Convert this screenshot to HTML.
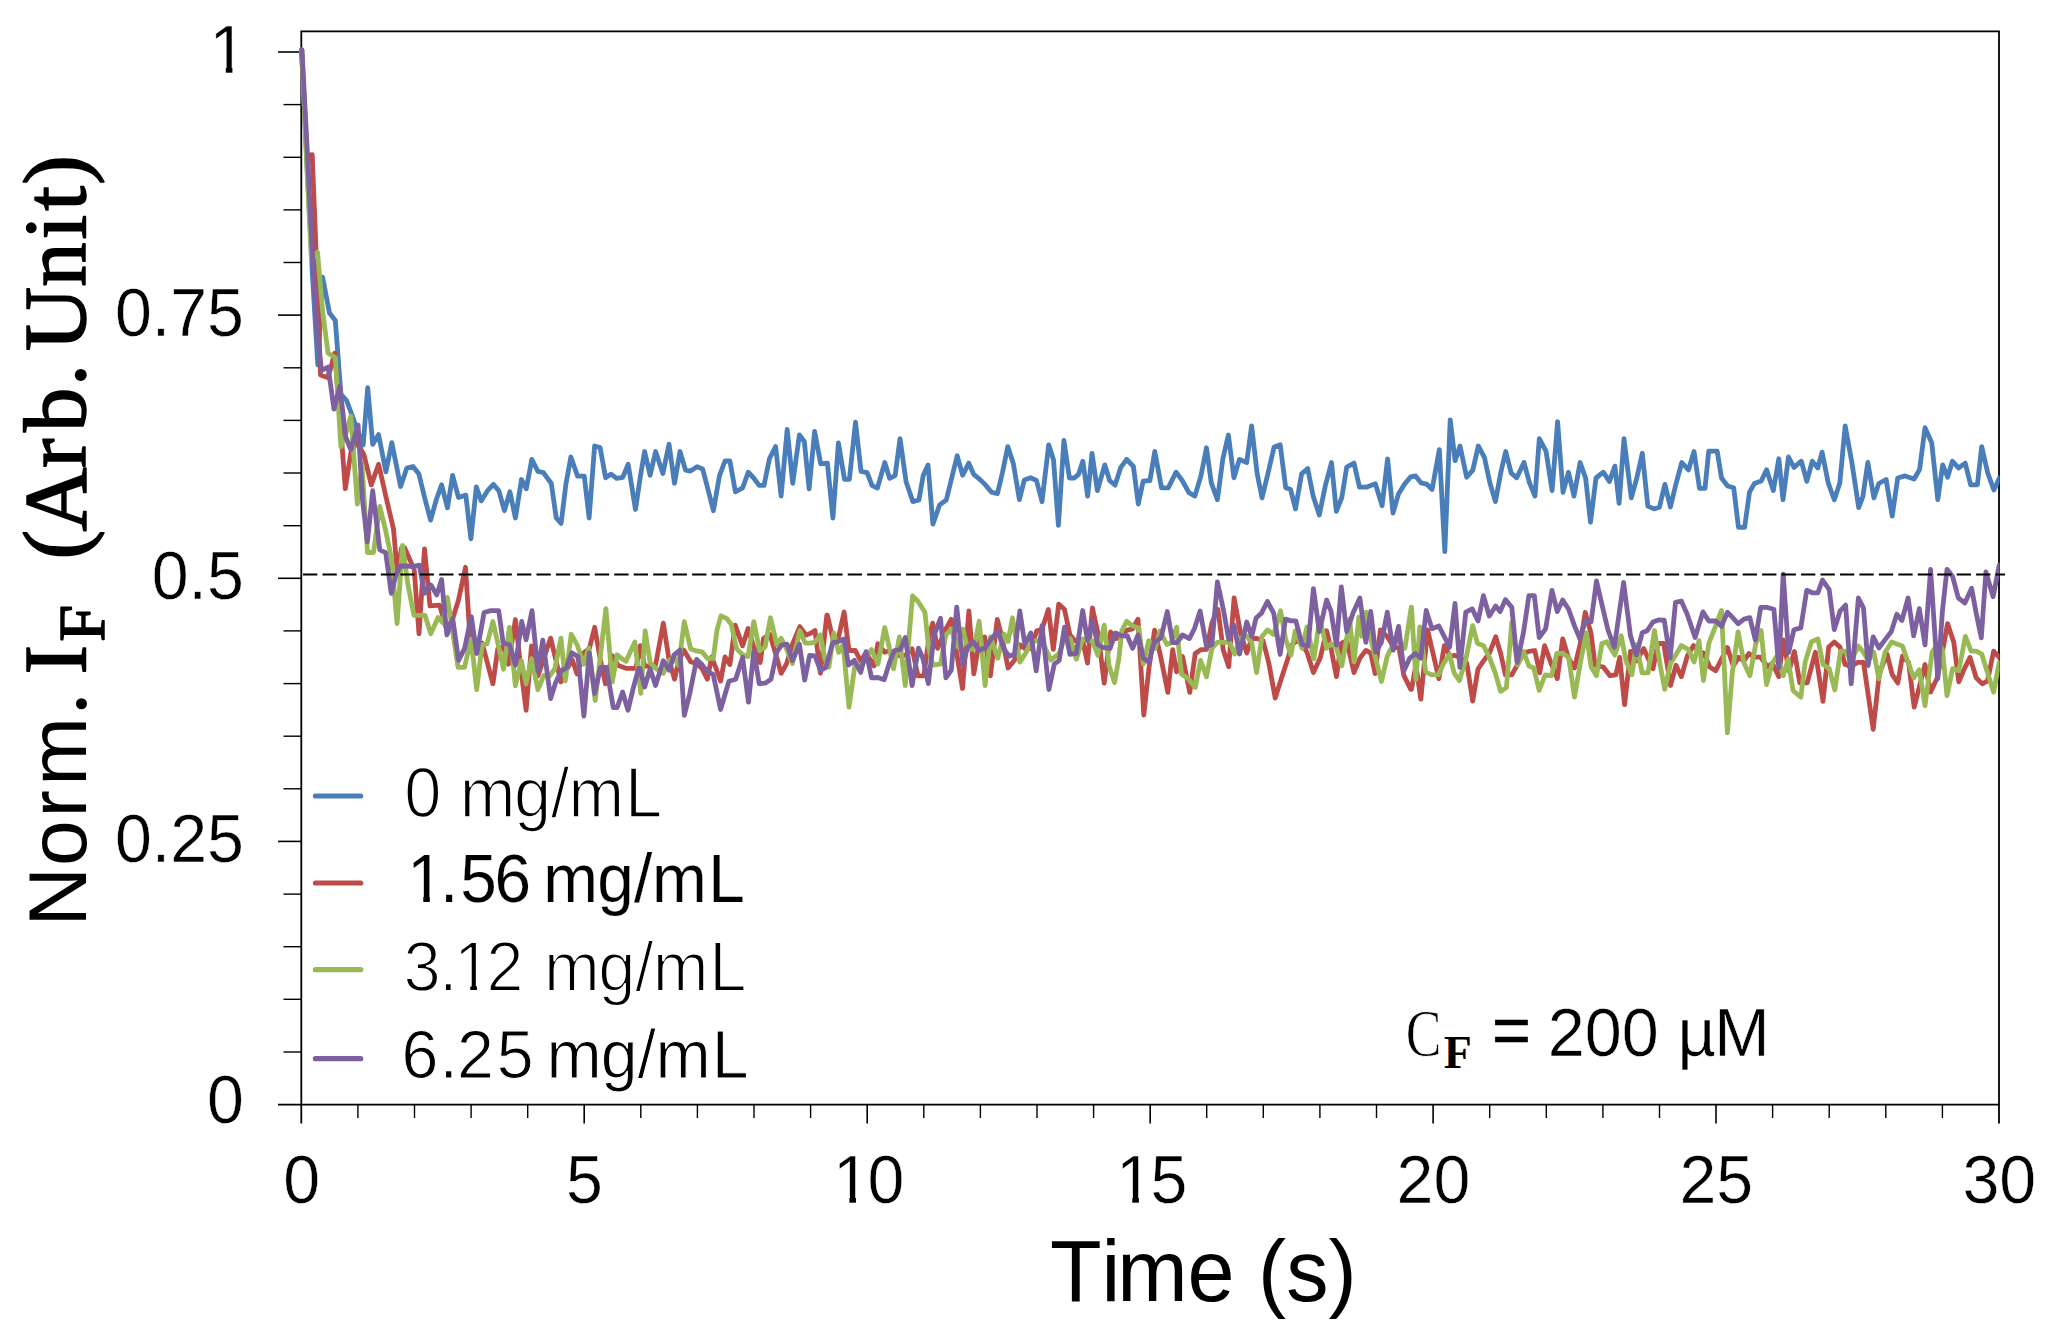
<!DOCTYPE html>
<html lang="en"><head><meta charset="utf-8"><title>Norm. IF vs Time</title>
<style>html,body{margin:0;padding:0;background:#fff}body{width:2050px;height:1338px;overflow:hidden}svg{display:block}text{fill:#000;white-space:pre}.s{font-family:"Liberation Sans", Arial, sans-serif}.r{font-family:"Liberation Serif", "Times New Roman", serif}</style></head><body>
<svg width="2050" height="1338" viewBox="0 0 2050 1338">
<rect width="2050" height="1338" fill="#fff"/>
<g stroke="#000" stroke-width="1.8" fill="none">
<path d="M301.3,1123.5 V31.3 H1999 V1123.5"/>
<path d="M278,1104.6 H1999"/>
</g>
<g stroke="#000" stroke-width="1.6">
<line x1="283.5" y1="1052.0" x2="301.3" y2="1052.0" stroke-width="1.4"/>
<line x1="283.5" y1="999.3" x2="301.3" y2="999.3" stroke-width="1.4"/>
<line x1="283.5" y1="946.7" x2="301.3" y2="946.7" stroke-width="1.4"/>
<line x1="283.5" y1="894.1" x2="301.3" y2="894.1" stroke-width="1.4"/>
<line x1="278" y1="841.4" x2="301.3" y2="841.4"/>
<line x1="283.5" y1="788.8" x2="301.3" y2="788.8" stroke-width="1.4"/>
<line x1="283.5" y1="736.2" x2="301.3" y2="736.2" stroke-width="1.4"/>
<line x1="283.5" y1="683.6" x2="301.3" y2="683.6" stroke-width="1.4"/>
<line x1="283.5" y1="630.9" x2="301.3" y2="630.9" stroke-width="1.4"/>
<line x1="278" y1="578.3" x2="301.3" y2="578.3"/>
<line x1="283.5" y1="525.7" x2="301.3" y2="525.7" stroke-width="1.4"/>
<line x1="283.5" y1="473.0" x2="301.3" y2="473.0" stroke-width="1.4"/>
<line x1="283.5" y1="420.4" x2="301.3" y2="420.4" stroke-width="1.4"/>
<line x1="283.5" y1="367.8" x2="301.3" y2="367.8" stroke-width="1.4"/>
<line x1="278" y1="315.1" x2="301.3" y2="315.1"/>
<line x1="283.5" y1="262.5" x2="301.3" y2="262.5" stroke-width="1.4"/>
<line x1="283.5" y1="209.9" x2="301.3" y2="209.9" stroke-width="1.4"/>
<line x1="283.5" y1="157.3" x2="301.3" y2="157.3" stroke-width="1.4"/>
<line x1="283.5" y1="104.6" x2="301.3" y2="104.6" stroke-width="1.4"/>
<line x1="278" y1="52.0" x2="301.3" y2="52.0"/>
<line x1="357.9" y1="1104.6" x2="357.9" y2="1118" stroke-width="1.4"/>
<line x1="414.5" y1="1104.6" x2="414.5" y2="1118" stroke-width="1.4"/>
<line x1="471.1" y1="1104.6" x2="471.1" y2="1118" stroke-width="1.4"/>
<line x1="527.7" y1="1104.6" x2="527.7" y2="1118" stroke-width="1.4"/>
<line x1="584.2" y1="1104.6" x2="584.2" y2="1123.5"/>
<line x1="640.8" y1="1104.6" x2="640.8" y2="1118" stroke-width="1.4"/>
<line x1="697.4" y1="1104.6" x2="697.4" y2="1118" stroke-width="1.4"/>
<line x1="754.0" y1="1104.6" x2="754.0" y2="1118" stroke-width="1.4"/>
<line x1="810.6" y1="1104.6" x2="810.6" y2="1118" stroke-width="1.4"/>
<line x1="867.2" y1="1104.6" x2="867.2" y2="1123.5"/>
<line x1="923.8" y1="1104.6" x2="923.8" y2="1118" stroke-width="1.4"/>
<line x1="980.4" y1="1104.6" x2="980.4" y2="1118" stroke-width="1.4"/>
<line x1="1037.0" y1="1104.6" x2="1037.0" y2="1118" stroke-width="1.4"/>
<line x1="1093.6" y1="1104.6" x2="1093.6" y2="1118" stroke-width="1.4"/>
<line x1="1150.2" y1="1104.6" x2="1150.2" y2="1123.5"/>
<line x1="1206.7" y1="1104.6" x2="1206.7" y2="1118" stroke-width="1.4"/>
<line x1="1263.3" y1="1104.6" x2="1263.3" y2="1118" stroke-width="1.4"/>
<line x1="1319.9" y1="1104.6" x2="1319.9" y2="1118" stroke-width="1.4"/>
<line x1="1376.5" y1="1104.6" x2="1376.5" y2="1118" stroke-width="1.4"/>
<line x1="1433.1" y1="1104.6" x2="1433.1" y2="1123.5"/>
<line x1="1489.7" y1="1104.6" x2="1489.7" y2="1118" stroke-width="1.4"/>
<line x1="1546.3" y1="1104.6" x2="1546.3" y2="1118" stroke-width="1.4"/>
<line x1="1602.9" y1="1104.6" x2="1602.9" y2="1118" stroke-width="1.4"/>
<line x1="1659.5" y1="1104.6" x2="1659.5" y2="1118" stroke-width="1.4"/>
<line x1="1716.0" y1="1104.6" x2="1716.0" y2="1123.5"/>
<line x1="1772.6" y1="1104.6" x2="1772.6" y2="1118" stroke-width="1.4"/>
<line x1="1829.2" y1="1104.6" x2="1829.2" y2="1118" stroke-width="1.4"/>
<line x1="1885.8" y1="1104.6" x2="1885.8" y2="1118" stroke-width="1.4"/>
<line x1="1942.4" y1="1104.6" x2="1942.4" y2="1118" stroke-width="1.4"/>
</g>
<clipPath id="pc"><rect x="290" y="20" width="1709.6" height="1100"/></clipPath>
<g fill="none" stroke-width="4.8" stroke-linejoin="round" stroke-linecap="round" clip-path="url(#pc)">
<polyline points="301.5,50.0 307.0,165.0 312.6,278.0 317.8,364.9 322.6,277.1 329.5,313.0 335.3,320.5 340.9,394.0 346.6,400.5 352.0,415.0 357.7,431.0 363.2,444.9 367.7,387.7 372.7,444.4 378.6,434.6 385.9,471.9 391.8,442.6 400.6,486.5 406.8,468.0 413.0,466.5 418.9,474.0 424.7,498.0 430.6,520.2 436.2,500.0 441.6,484.8 447.5,507.8 452.6,475.3 458.5,497.5 465.8,495.1 470.9,538.8 476.3,486.9 481.2,500.9 487.3,490.9 493.4,484.4 498.9,490.9 504.4,510.7 509.9,491.7 515.4,518.0 521.5,479.5 526.3,488.8 531.8,459.4 537.9,471.3 543.4,472.6 551.3,483.5 556.2,517.7 561.1,523.5 566.0,483.5 570.9,457.0 577.6,476.2 584.3,476.2 589.1,518.0 594.6,446.0 600.1,447.6 605.6,477.8 611.1,474.1 616.6,478.4 622.7,477.4 628.2,464.3 635.5,509.5 640.4,476.2 644.6,451.5 650.1,475.3 655.6,451.5 662.9,473.5 669.0,444.2 674.5,483.3 680.0,451.5 685.5,470.1 690.4,471.1 697.1,466.7 702.6,468.9 707.9,489.0 713.4,510.7 719.5,475.6 725.0,461.0 729.9,461.0 735.4,491.8 742.7,487.8 748.2,472.2 753.7,478.0 759.1,485.4 764.0,485.4 769.5,458.5 775.6,446.6 781.1,496.1 787.2,429.5 792.7,483.3 799.4,435.0 804.3,441.5 809.1,488.8 814.6,431.4 820.7,463.8 827.4,463.1 832.9,518.0 838.4,443.0 844.5,479.3 849.4,479.3 855.5,422.2 861.0,471.3 867.1,472.6 872.0,485.4 877.4,488.1 884.8,462.5 889.6,478.4 895.1,475.6 900.0,438.7 906.1,481.7 912.8,501.6 918.9,500.0 923.2,475.6 928.0,464.9 932.9,524.1 939.6,504.9 946.3,500.0 951.7,478.0 957.2,455.8 962.7,475.3 968.8,463.1 973.7,474.4 980.4,479.9 985.9,485.4 991.3,492.1 997.4,493.6 1002.3,473.2 1007.8,446.6 1013.3,463.4 1019.4,499.7 1024.3,479.9 1030.4,477.7 1036.5,480.5 1042.0,501.6 1048.7,444.8 1053.5,459.8 1058.4,525.3 1063.9,440.5 1069.4,478.0 1074.3,478.0 1078.5,474.4 1082.8,461.2 1087.7,496.1 1092.0,453.3 1097.4,490.6 1104.8,464.9 1109.6,480.5 1115.1,485.1 1120.6,467.7 1126.7,459.4 1133.4,466.5 1138.3,504.0 1143.2,481.1 1149.9,480.5 1154.8,451.5 1161.5,487.8 1168.2,487.8 1176.1,472.2 1182.2,480.5 1188.9,492.7 1194.9,496.1 1201.0,475.6 1206.5,447.8 1211.3,482.9 1217.4,499.7 1222.9,458.5 1228.4,435.0 1233.9,477.8 1239.4,459.4 1246.7,462.5 1251.6,425.9 1257.1,473.2 1262.0,497.9 1268.0,473.2 1274.1,447.0 1280.2,444.8 1285.7,487.8 1290.6,489.6 1295.5,508.9 1301.6,473.8 1307.7,468.6 1313.2,496.3 1319.3,515.0 1325.4,485.4 1331.5,462.5 1336.3,511.3 1341.8,497.6 1346.7,467.1 1354.0,463.1 1359.5,487.2 1366.2,487.2 1375.4,483.8 1382.1,505.8 1387.6,458.8 1393.0,513.1 1398.5,493.9 1404.6,484.1 1410.7,476.8 1415.6,475.9 1421.1,482.9 1426.6,484.1 1432.1,489.4 1439.3,449.7 1444.8,551.6 1450.2,419.8 1455.1,460.7 1460.0,446.0 1466.7,477.2 1472.8,470.1 1478.3,446.0 1484.4,457.3 1489.9,482.9 1495.4,501.6 1500.9,472.0 1505.7,451.5 1511.2,473.2 1516.7,477.8 1524.0,462.5 1529.5,482.9 1535.0,496.1 1539.3,438.7 1546.0,451.2 1552.1,490.6 1557.6,421.6 1563.0,492.4 1568.5,472.2 1574.0,496.1 1580.1,462.5 1585.6,478.0 1590.5,522.3 1596.0,478.0 1603.3,472.2 1609.4,481.4 1614.9,466.1 1619.1,503.4 1624.0,438.7 1631.3,497.9 1636.8,478.0 1642.3,453.3 1647.8,506.1 1653.9,508.9 1659.4,507.3 1664.9,484.4 1670.4,507.0 1675.9,484.1 1681.8,462.5 1688.5,469.9 1694.0,451.5 1699.5,488.4 1705.0,488.4 1708.7,451.2 1717.2,451.2 1721.5,478.0 1727.6,486.0 1733.7,487.8 1738.5,527.4 1744.6,527.4 1749.5,492.1 1754.4,483.5 1761.1,481.1 1766.6,469.8 1773.3,490.6 1778.8,458.8 1783.0,499.7 1788.5,457.0 1794.0,467.4 1801.3,461.2 1806.8,481.4 1812.3,461.2 1817.8,468.0 1822.1,452.1 1828.2,482.9 1834.3,499.7 1839.8,482.9 1845.2,425.9 1852.0,463.4 1858.7,507.7 1862.9,496.3 1867.8,462.5 1873.9,497.9 1878.8,483.5 1886.1,479.5 1892.2,516.2 1897.7,478.0 1905.0,475.9 1914.1,479.0 1919.6,469.5 1925.0,427.7 1931.7,442.7 1937.8,499.7 1942.7,464.9 1947.6,477.2 1952.4,461.2 1958.5,468.0 1965.2,463.1 1970.7,484.8 1977.4,484.8 1981.7,446.6 1987.8,473.2 1993.9,490.0 1999.4,478.0" stroke="#4a7ebb"/>
<polyline points="301.5,50.0 307.0,155.9 312.2,154.6 316.5,262.0 320.5,375.0 328.1,377.7 334.7,353.1 340.5,425.0 345.3,488.7 351.0,452.0 357.0,442.1 364.0,455.0 371.3,484.9 378.6,464.3 386.0,497.0 393.5,529.0 397.5,573.9 401.5,548.0 404.7,548.0 414.2,569.6 419.0,633.9 424.5,549.0 430.0,605.9 439.6,605.1 446.5,628.9 452.6,619.0 458.5,600.0 465.5,567.3 470.4,645.0 471.3,646.6 476.7,644.8 482.1,643.0 487.5,663.4 492.9,683.8 497.8,648.7 503.6,646.9 508.5,664.3 515.4,619.5 520.8,668.3 526.1,710.3 531.5,645.9 537.9,676.0 543.8,658.5 550.6,638.1 555.5,658.5 560.9,681.9 566.3,670.3 572.2,659.6 577.1,674.0 583.9,652.7 589.3,648.7 594.7,627.3 600.1,658.5 605.4,683.8 612.3,655.7 618.2,665.4 626.0,668.3 635.8,668.3 635.9,668.3 640.3,645.7 644.7,666.4 650.1,665.7 655.5,665.4 663.3,623.1 669.2,660.7 674.5,679.2 678.9,660.7 683.8,650.1 690.7,661.7 696.6,663.6 702.0,668.5 707.3,679.2 711.7,656.9 716.1,668.5 720.6,681.1 725.0,656.9 729.9,664.5 735.2,625.1 742.6,645.9 748.0,628.5 753.8,647.0 760.2,662.5 763.6,638.2 770.0,634.4 775.9,654.8 781.2,673.3 786.6,663.6 792.5,644.1 799.8,626.6 806.2,635.1 810.6,633.3 815.0,630.5 820.4,673.3 826.8,615.2 827.4,615.2 832.8,638.7 838.2,638.7 844.1,612.0 849.0,650.5 855.3,650.5 860.7,661.1 866.1,652.6 873.9,666.0 877.9,643.8 884.7,652.3 889.6,650.6 895.5,654.4 901.4,656.2 906.7,654.4 912.1,648.7 918.0,675.9 923.9,675.9 928.8,638.7 932.7,623.2 937.6,648.4 945.9,628.9 951.3,619.3 956.7,653.4 962.5,688.5 968.9,611.0 973.8,673.8 979.7,638.7 984.6,636.9 990.4,675.8 997.3,619.3 1002.2,638.7 1008.1,668.0 1014.4,660.3 1019.8,644.8 1024.9,648.5 1030.8,648.5 1036.6,630.9 1042.0,628.9 1048.4,609.5 1053.3,649.4 1058.7,604.1 1064.5,609.4 1069.9,634.8 1074.8,640.6 1082.7,640.8 1087.5,663.1 1092.4,608.0 1098.3,634.8 1104.2,683.1 1110.6,632.0 1116.4,638.6 1121.8,634.8 1127.2,630.1 1132.6,628.8 1138.0,619.3 1143.8,715.0 1149.2,666.1 1154.6,630.1 1161.0,658.3 1167.8,692.4 1172.7,649.6 1176.6,671.9 1182.5,656.5 1189.8,692.4 1195.2,653.4 1201.1,649.6 1206.5,649.4 1211.9,623.1 1217.3,609.4 1217.9,609.4 1223.3,650.3 1228.7,666.8 1234.1,598.0 1240.5,632.7 1246.8,653.1 1251.7,638.5 1257.1,638.5 1263.0,640.5 1268.8,663.0 1275.2,698.1 1281.6,677.7 1287.4,660.1 1292.3,644.4 1297.2,640.6 1302.1,644.4 1307.0,652.2 1313.4,672.6 1320.2,658.1 1326.6,630.8 1331.0,648.3 1336.4,676.6 1341.3,643.4 1346.7,640.6 1354.0,672.6 1359.9,658.1 1365.8,650.4 1370.7,653.2 1375.1,673.6 1380.4,629.9 1387.3,636.6 1393.2,646.4 1399.0,648.3 1403.9,675.7 1410.8,689.4 1411.5,689.4 1415.9,665.2 1420.8,699.2 1427.6,630.0 1433.0,653.3 1438.9,678.6 1444.3,645.6 1450.1,656.1 1455.0,655.4 1460.9,658.2 1466.8,663.1 1472.7,701.1 1478.0,669.0 1483.4,661.1 1489.3,653.3 1495.7,636.8 1500.6,653.3 1505.4,674.9 1511.8,674.9 1517.2,665.1 1523.6,653.3 1528.9,651.4 1534.8,650.5 1539.7,672.8 1544.6,645.6 1551.0,663.1 1557.3,678.6 1562.7,638.8 1568.6,658.2 1574.5,667.9 1580.3,643.5 1585.2,612.3 1591.1,633.7 1595.0,665.1 1603.3,667.0 1610.0,675.7 1615.8,674.9 1619.7,657.4 1624.6,704.7 1630.5,651.5 1636.3,661.0 1643.7,648.6 1648.1,658.2 1653.0,668.8 1657.9,643.5 1663.7,643.5 1670.6,685.5 1676.0,665.2 1681.4,676.7 1687.2,656.3 1693.6,645.6 1699.0,651.4 1703.9,653.3 1709.7,667.0 1715.6,670.8 1721.5,659.2 1727.4,647.6 1733.2,665.9 1738.6,657.4 1744.0,661.0 1748.9,653.5 1754.8,657.2 1760.7,657.2 1767.5,666.9 1772.4,663.2 1778.8,676.7 1783.2,639.8 1789.0,670.8 1794.4,651.5 1799.8,682.9 1807.2,682.9 1815.4,652.2 1823.0,701.3 1828.7,647.1 1834.3,642.0 1840.0,647.1 1845.1,664.5 1851.2,666.5 1857.4,662.4 1863.5,662.4 1873.2,729.3 1879.4,672.7 1887.1,654.3 1892.2,674.7 1897.8,682.9 1902.4,656.3 1908.6,662.4 1914.2,707.2 1925.0,664.5 1930.6,692.1 1937.3,677.8 1942.4,652.2 1947.5,623.6 1953.7,642.0 1958.8,681.9 1964.9,667.6 1970.0,657.4 1976.2,677.8 1982.3,683.9 1987.5,680.9 1993.6,651.2 1999.2,657.3" stroke="#be4b48"/>
<polyline points="302.0,50.0 306.5,160.0 311.5,259.9 317.5,252.1 322.5,310.0 328.0,353.0 335.4,357.7 340.9,446.9 346.4,432.0 350.8,416.1 357.4,504.1 362.0,464.1 367.5,552.5 373.5,552.5 379.8,506.5 385.5,530.0 391.4,558.0 397.1,623.6 402.5,545.3 408.0,585.0 414.0,615.4 419.0,615.4 425.0,615.3 430.8,633.9 438.0,617.5 443.0,622.9 447.4,597.4 458.1,667.3 464.5,667.3 471.1,639.1 476.7,689.7 482.1,644.8 487.0,643.8 492.9,621.5 498.2,644.8 503.6,669.2 509.5,627.3 515.4,685.8 521.3,660.6 526.1,683.8 531.5,658.7 537.9,689.7 543.8,675.3 549.6,676.0 555.0,668.3 560.9,638.1 565.3,680.9 571.2,634.2 577.1,644.8 583.9,664.3 588.8,647.9 595.2,700.5 600.5,654.6 605.9,608.7 612.3,681.9 617.2,654.8 621.6,658.5 626.0,661.3 634.8,641.9 634.9,641.9 640.8,693.3 645.2,631.0 650.1,662.7 655.9,668.5 663.3,673.3 669.2,660.7 674.1,656.9 678.5,665.4 684.3,621.7 690.7,648.9 696.6,650.9 702.0,651.9 707.8,658.7 713.2,658.7 717.1,629.4 721.0,615.8 726.9,618.6 731.3,624.5 736.7,648.9 742.6,654.8 748.0,656.6 753.8,621.7 759.7,650.8 765.1,647.0 770.5,617.8 776.8,644.9 781.2,638.3 786.6,648.9 792.5,663.5 799.8,630.5 805.2,643.1 810.1,643.1 815.0,642.1 820.4,634.9 824.8,658.7 828.9,667.0 833.8,633.0 838.7,652.3 843.1,644.8 849.0,707.1 854.9,665.3 860.7,666.0 866.1,658.3 871.5,649.6 877.9,664.0 884.7,627.6 889.1,646.6 893.5,668.9 899.4,636.9 905.3,685.6 909.2,634.8 912.6,595.8 918.0,601.5 924.9,612.3 928.8,648.5 932.7,665.0 940.5,664.2 945.9,634.8 951.3,629.1 956.7,646.4 963.0,629.1 967.4,648.5 973.8,649.4 979.2,621.3 985.1,685.6 990.4,636.9 997.8,658.2 1004.1,634.0 1008.1,641.5 1012.5,617.8 1019.8,662.1 1024.9,654.4 1030.8,643.6 1036.2,640.7 1042.0,640.7 1050.8,660.1 1059.2,653.4 1064.5,638.7 1070.4,638.7 1076.3,659.2 1082.7,638.9 1087.5,640.6 1092.4,640.8 1097.8,655.2 1104.2,625.2 1109.1,666.1 1114.5,682.6 1118.9,658.3 1121.8,630.9 1126.7,621.3 1132.6,626.0 1138.9,628.0 1143.3,664.0 1148.7,640.8 1155.1,648.4 1160.0,631.0 1166.8,644.5 1171.2,642.7 1176.6,627.1 1181.5,674.0 1188.4,678.9 1195.2,687.5 1200.6,660.4 1206.5,676.8 1211.9,648.5 1217.3,642.4 1219.9,642.4 1224.8,642.4 1229.7,642.6 1234.6,654.0 1240.5,638.5 1246.3,635.7 1251.7,642.4 1256.6,672.6 1262.0,636.6 1267.4,629.9 1273.7,634.5 1280.6,610.8 1285.5,638.5 1290.9,655.0 1295.3,630.8 1302.1,648.2 1307.0,626.9 1313.9,658.9 1319.7,618.1 1326.6,648.2 1331.0,643.6 1336.4,648.3 1341.8,665.8 1346.7,638.5 1349.6,619.1 1354.0,661.9 1358.9,617.1 1361.8,636.4 1366.2,612.2 1370.7,638.5 1375.5,658.1 1381.4,681.5 1387.3,656.1 1393.2,644.4 1399.0,640.6 1404.9,648.2 1411.3,607.2 1411.5,607.2 1415.9,679.6 1419.8,627.0 1425.7,671.9 1431.5,674.9 1438.4,674.9 1443.8,663.1 1449.6,654.4 1454.1,672.9 1459.4,680.6 1465.8,659.2 1472.7,625.6 1477.5,643.5 1483.4,645.5 1489.3,657.2 1495.2,672.9 1500.6,691.4 1506.4,687.6 1511.8,622.1 1517.5,664.9 1523.6,651.5 1528.9,666.0 1533.8,668.0 1539.2,690.4 1545.1,675.0 1551.5,675.7 1556.8,653.3 1562.7,653.3 1568.6,657.2 1574.5,697.2 1580.3,663.1 1586.2,632.9 1591.1,667.0 1596.5,675.7 1601.9,643.5 1606.8,641.7 1614.8,655.1 1621.2,635.8 1626.0,661.1 1631.9,674.7 1636.3,644.6 1642.2,672.9 1648.1,672.9 1654.4,630.5 1659.8,663.1 1664.7,689.4 1670.6,663.1 1675.5,655.3 1681.4,645.6 1688.2,649.4 1694.1,662.0 1699.0,640.7 1703.4,680.6 1708.8,643.5 1715.6,625.9 1721.5,610.4 1727.4,732.8 1732.3,672.9 1738.1,631.9 1744.0,663.1 1749.9,675.7 1755.8,643.5 1761.1,630.5 1766.5,684.5 1772.4,663.1 1777.3,655.4 1783.2,675.7 1788.1,659.3 1793.0,690.5 1800.8,697.2 1805.1,662.4 1811.3,642.0 1817.9,638.9 1823.0,664.5 1829.2,668.6 1834.8,690.0 1840.5,651.2 1845.1,651.2 1851.2,660.3 1858.4,646.1 1863.5,652.2 1868.1,660.3 1873.8,652.2 1878.9,678.8 1885.0,652.2 1891.7,642.0 1896.8,644.0 1902.4,646.0 1908.1,662.4 1913.7,677.8 1919.3,669.7 1925.0,705.7 1932.1,652.2 1937.8,644.1 1942.4,649.1 1947.0,695.7 1952.6,668.6 1958.8,670.6 1965.4,636.4 1971.1,651.2 1976.2,651.2 1981.8,654.2 1987.5,672.7 1993.6,692.1 1999.2,662.4" stroke="#98b954"/>
<polyline points="302.0,50.0 307.5,155.0 312.8,262.0 317.0,330.0 321.5,370.4 328.1,367.1 334.0,409.2 339.8,386.1 345.7,437.0 350.8,449.5 358.1,425.1 362.5,500.0 367.4,541.9 372.7,490.7 379.8,549.8 385.7,552.7 391.3,593.3 396.0,575.0 400.3,565.8 406.5,566.0 412.8,566.7 419.4,565.1 424.4,593.3 430.9,585.1 436.8,594.9 441.6,579.5 446.9,634.9 452.7,618.5 458.6,660.3 464.5,648.7 471.3,616.6 476.7,653.5 484.1,612.5 490.9,610.6 498.7,610.6 503.1,642.9 509.5,644.8 515.4,665.2 521.7,621.5 526.1,639.8 532.0,610.7 537.9,671.1 542.8,640.1 550.6,698.5 555.5,683.0 561.4,670.3 566.3,668.3 571.7,652.8 578.0,656.6 583.9,716.1 589.3,652.8 594.7,693.6 600.5,667.3 606.4,667.3 613.3,707.5 617.2,707.5 622.6,692.0 628.0,710.3 633.3,687.9 638.7,668.3 639.8,668.3 644.7,687.0 650.1,668.7 655.5,685.5 663.3,660.8 669.2,670.3 674.1,654.8 679.9,650.1 684.3,715.4 689.7,694.0 696.6,659.4 702.0,664.6 707.3,671.5 713.2,674.4 720.6,709.5 728.9,681.3 735.7,679.3 742.6,657.4 748.5,702.2 753.8,651.0 759.2,683.6 765.1,683.2 771.0,679.3 776.8,651.9 781.7,645.0 787.1,644.2 792.5,660.6 799.4,644.2 804.7,680.1 809.6,655.5 815.0,655.8 820.4,670.3 825.8,667.5 832.8,642.7 838.2,641.7 844.1,638.9 848.5,665.0 854.4,660.4 860.7,672.4 866.1,651.6 871.5,677.8 877.9,677.5 884.2,679.7 889.6,662.2 894.5,650.5 900.4,649.5 905.3,637.4 912.1,685.6 918.5,648.2 922.9,658.3 928.3,683.6 934.2,634.8 940.5,618.3 945.9,677.8 951.3,670.1 956.7,607.1 963.0,665.0 967.4,647.5 973.3,641.8 979.2,650.3 985.5,647.5 991.4,638.7 997.8,631.0 1003.7,648.5 1009.0,656.2 1014.4,654.4 1019.8,611.0 1024.9,644.5 1030.8,633.0 1036.2,670.9 1042.0,625.7 1048.9,689.5 1054.3,664.2 1059.2,660.3 1064.5,627.1 1069.9,654.3 1076.3,653.4 1082.7,610.5 1087.5,640.6 1092.4,621.3 1097.8,644.6 1103.2,647.5 1110.1,648.4 1115.4,633.0 1121.8,635.8 1127.2,635.8 1132.6,648.4 1138.0,635.0 1143.3,658.3 1148.7,662.1 1154.1,642.7 1161.0,637.8 1167.3,611.5 1172.7,642.7 1177.1,642.7 1182.5,635.0 1189.4,638.6 1194.7,628.0 1200.1,611.0 1206.5,646.4 1211.9,644.6 1217.4,581.9 1223.3,609.2 1228.7,639.4 1234.1,625.0 1239.5,654.0 1246.8,622.0 1251.7,636.4 1256.1,618.0 1261.5,613.1 1267.4,601.5 1273.7,613.1 1280.1,654.5 1285.5,619.1 1290.9,620.9 1295.8,620.9 1302.1,644.4 1308.0,646.2 1313.4,588.7 1319.3,631.5 1326.6,600.0 1331.0,611.1 1336.4,645.2 1341.3,586.8 1346.7,631.5 1353.0,613.1 1359.9,598.0 1365.8,642.3 1370.7,611.3 1375.5,652.1 1381.4,642.4 1387.3,612.2 1393.2,650.1 1398.6,626.4 1403.9,670.7 1409.8,658.1 1415.4,653.5 1420.8,658.1 1426.2,610.4 1432.0,628.7 1438.9,626.0 1444.3,636.7 1449.6,647.3 1455.0,603.5 1459.9,667.4 1465.8,612.2 1472.2,608.9 1478.0,620.9 1483.4,595.7 1489.3,616.0 1495.7,606.0 1500.1,611.6 1505.4,599.6 1511.8,607.3 1517.2,662.5 1523.6,631.8 1528.9,595.6 1534.3,595.6 1539.2,637.5 1545.6,628.8 1551.9,590.3 1557.3,611.6 1562.7,600.1 1568.6,609.3 1574.5,625.9 1579.8,638.5 1585.7,620.2 1591.1,621.8 1596.5,581.0 1601.9,604.4 1607.9,629.8 1614.3,647.3 1623.6,582.5 1630.5,635.7 1636.3,655.1 1642.2,632.8 1647.1,630.8 1653.0,622.0 1658.4,620.0 1664.2,620.2 1670.1,658.1 1675.5,602.4 1681.4,601.1 1687.2,614.2 1695.1,637.5 1702.9,611.9 1708.8,621.0 1715.6,621.0 1721.5,626.3 1727.4,612.3 1732.3,617.1 1738.1,623.8 1744.0,619.1 1749.9,617.7 1755.3,640.0 1760.7,607.3 1766.5,607.3 1773.9,609.3 1778.8,667.9 1783.2,574.2 1788.6,652.7 1793.9,629.8 1800.8,627.9 1806.7,590.3 1812.3,592.8 1817.9,592.8 1822.5,580.0 1829.2,589.7 1834.3,629.6 1840.0,611.2 1845.6,605.1 1851.2,683.9 1858.4,598.0 1863.5,608.1 1868.1,665.5 1873.2,636.9 1878.9,648.0 1885.0,639.9 1891.2,631.7 1896.8,614.3 1901.9,620.4 1908.1,598.0 1913.7,635.8 1919.3,608.7 1925.0,645.0 1930.6,569.3 1937.8,678.8 1942.4,611.2 1947.0,569.3 1952.6,576.4 1958.3,597.9 1964.9,603.0 1971.6,588.2 1976.2,613.3 1981.3,637.8 1985.9,571.8 1993.1,596.8 1999.2,565.1" stroke="#7d60a0"/>
</g>
<line x1="303" y1="574.4" x2="2005" y2="574.4" stroke="#000" stroke-width="2" stroke-dasharray="14.3 5.155"/>
<text class="s" font-size="66.3" transform="translate(0,1202.5) scale(1,1.040)" x="283.2" stroke="#fff" stroke-width="0.50" stroke-linejoin="round">0</text>
<text class="s" font-size="66.3" transform="translate(0,1202.5) scale(1,1.040)" x="566.1" stroke="#fff" stroke-width="0.50" stroke-linejoin="round">5</text>
<text class="s" font-size="66.3" transform="translate(0,1202.5) scale(1,1.040)" x="833.1 867.5" stroke="#fff" stroke-width="0.50" stroke-linejoin="round">10</text><rect x="835.8" y="1195.2" width="13.6" height="8.8" fill="#fff"/><rect x="856.0" y="1195.2" width="13.3" height="8.8" fill="#fff"/>
<text class="s" font-size="66.3" transform="translate(0,1202.5) scale(1,1.040)" x="1116.1 1150.4" stroke="#fff" stroke-width="0.50" stroke-linejoin="round">15</text><rect x="1118.7" y="1195.2" width="13.6" height="8.8" fill="#fff"/><rect x="1138.9" y="1195.2" width="13.3" height="8.8" fill="#fff"/>
<text class="s" font-size="66.3" transform="translate(0,1202.5) scale(1,1.040)" x="1396.5 1433.4" stroke="#fff" stroke-width="0.50" stroke-linejoin="round">20</text>
<text class="s" font-size="66.3" transform="translate(0,1202.5) scale(1,1.040)" x="1679.5 1716.3" stroke="#fff" stroke-width="0.50" stroke-linejoin="round">25</text>
<text class="s" font-size="66.3" transform="translate(0,1202.5) scale(1,1.040)" x="1962.4 1999.3" stroke="#fff" stroke-width="0.50" stroke-linejoin="round">30</text>
<text class="s" font-size="66.3" transform="translate(0,73.1) scale(1,1.040)" x="209.5" stroke="#fff" stroke-width="0.50" stroke-linejoin="round">1</text><rect x="212.2" y="65.8" width="13.6" height="8.8" fill="#fff"/><rect x="232.4" y="65.8" width="13.3" height="8.8" fill="#fff"/>
<text class="s" font-size="66.3" transform="translate(0,335.5) scale(1,1.040)" x="114.9 151.7 170.2 207.0" stroke="#fff" stroke-width="0.50" stroke-linejoin="round">0.75</text>
<text class="s" font-size="66.3" transform="translate(0,598.7) scale(1,1.040)" x="151.7 188.6 207.0" stroke="#fff" stroke-width="0.50" stroke-linejoin="round">0.5</text>
<text class="s" font-size="66.3" transform="translate(0,861.8) scale(1,1.040)" x="114.9 151.7 170.2 207.0" stroke="#fff" stroke-width="0.50" stroke-linejoin="round">0.25</text>
<text class="s" font-size="66.3" transform="translate(0,1123.2) scale(1,1.040)" x="207.0" stroke="#fff" stroke-width="0.50" stroke-linejoin="round">0</text>
<text class="s" font-size="84.5" transform="translate(0,1301.2) scale(1,1.040)" x="1050.0 1101.6 1117.2 1187.6 1234.6 1258.1 1286.2 1328.5">Time (s)</text>
<text class="s" font-size="82.4" transform="translate(86.4,0) rotate(-90) scale(1,1.000)" x="-926.6 -865.9 -817.6 -785.7 -715.6">Norm<tspan class="r" font-size="94">.</tspan></text>
<text class="r" font-size="88.8" transform="translate(85.0,0) rotate(-90) scale(1,1.000)" x="-674.6" stroke="#000" stroke-width="1.5" stroke-linejoin="round">I</text>
<text class="r" font-size="66.2" transform="translate(103.8,0) rotate(-90) scale(1,1.000)" x="-641.7" stroke="#000" stroke-width="1.5" stroke-linejoin="round">F</text>
<text class="r" font-size="88.8" transform="translate(85.0,0) rotate(-90) scale(1,1.000)" x="-559.6 -531.6 -467.9 -432.0 -386.1 -363.9 -350.9 -286.7 -239.5 -210.8 -184.7" stroke="#000" stroke-width="1.5" stroke-linejoin="round">(Arb. Unit)</text>
<line x1="315.4" y1="796.0" x2="360.7" y2="796.0" stroke="#4a7ebb" stroke-width="5.2" stroke-linecap="round"/>
<text class="s" font-size="66.8" transform="translate(0,816.7) scale(1,1.040)" x="404.3 441.4 459.8 514.0 550.8 568.6 624.9" stroke="#fff" stroke-width="1.60" stroke-linejoin="round">0 mg/mL</text>
<line x1="315.4" y1="883.0" x2="360.7" y2="883.0" stroke="#be4b48" stroke-width="5.2" stroke-linecap="round"/>
<text class="s" font-size="65.7" transform="translate(0,902.3) scale(1,1.040)" x="407.2 439.9 460.3 494.4 530.9 543.2 597.3 634.1 652.0 708.3" stroke="#fff" stroke-width="0.20" stroke-linejoin="round">1.56 mg/mL</text><rect x="409.8" y="895.1" width="13.5" height="8.7" fill="#fff"/><rect x="429.8" y="895.1" width="13.1" height="8.7" fill="#fff"/>
<line x1="315.4" y1="969.7" x2="360.7" y2="969.7" stroke="#98b954" stroke-width="5.2" stroke-linecap="round"/>
<text class="s" font-size="66.9" transform="translate(0,991.0) scale(1,1.040)" x="403.6 439.1 453.9 486.2 523.4 544.0 598.2 635.0 652.8 709.2" stroke="#fff" stroke-width="1.70" stroke-linejoin="round">3.12 mg/mL</text><rect x="456.6" y="983.7" width="13.7" height="8.8" fill="#fff"/><rect x="477.0" y="983.7" width="13.4" height="8.8" fill="#fff"/>
<line x1="315.4" y1="1058.7" x2="360.7" y2="1058.7" stroke="#7d60a0" stroke-width="5.2" stroke-linecap="round"/>
<text class="s" font-size="66.3" transform="translate(0,1077.9) scale(1,1.040)" x="401.5 439.5 457.1 496.7 533.6 546.6 600.8 637.6 655.4 711.8" stroke="#fff" stroke-width="1.00" stroke-linejoin="round">6.25 mg/mL</text>
<text class="r" font-size="67" transform="translate(1405.7,1055.6) scale(0.80,1)" stroke="#fff" stroke-width="0.8" stroke-linejoin="round">C</text>
<text class="r" font-size="46" font-weight="bold" x="1443.7" y="1068">F</text>
<text class="s" font-size="66.5" transform="translate(0,1055.8) scale(1,1.040)" stroke="#fff" stroke-width="0.5" stroke-linejoin="round"><tspan x="1492.1" dy="-1.5" stroke="#000" stroke-width="0.6">=</tspan> <tspan x="1547.7" dy="1.5">200</tspan> <tspan x="1677.6 1714.3">µM</tspan></text>
</svg></body></html>
